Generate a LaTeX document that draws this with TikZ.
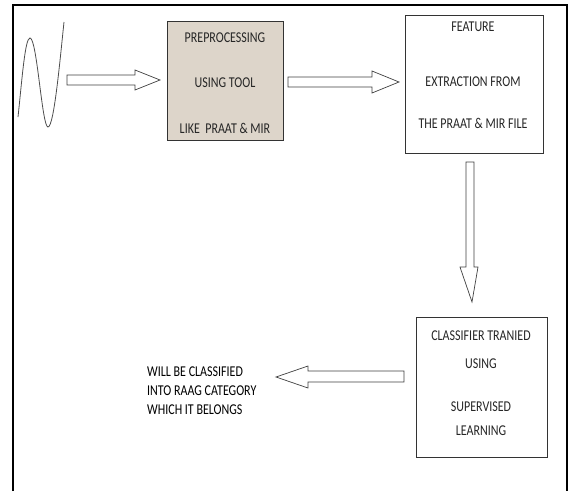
\documentclass[tikz,border=0pt]{standalone}
\usepackage{fontspec}
\setmainfont[FakeStretch=0.8]{Carlito}
\begin{document}
\begin{tikzpicture}[x=1pt,y=-1pt,
  txt/.style={font=\fontsize{15}{17}\selectfont, text=black!85, inner sep=0pt, anchor=center},
  box/.style={draw=black!80, line width=0.8pt},
  barrow/.style={draw=black!75, line width=0.7pt, fill=white, line join=miter}]
\useasboundingbox (0,0) rectangle (576,491);
% outer frame (no bottom line)
\draw[line width=1.6pt] (13,491) -- (13,5) -- (567,5) -- (567,491);
% wave
\draw[black!70, line width=0.8pt] (18,117) .. controls (22,80) and (25,38) .. (30,38)
  .. controls (37,38) and (42,127) .. (48,127)
  .. controls (54,127) and (60,60) .. (64,22);
% boxes
\node[box, fill={rgb,255:red,221;green,213;blue,202}, minimum width=116pt, minimum height=119pt, inner sep=0pt] (pre) at (225,80.5) {};
\node[box, minimum width=138pt, minimum height=138pt, inner sep=0pt] (feat) at (474,84) {};
\node[box, minimum width=131pt, minimum height=140pt, inner sep=0pt] (cls) at (481.5,387) {};
% texts
\node[txt] (p1) at (225,38) {PREPROCESSING};
\node[txt] (p2) at (225,83) {USING TOOL};
\node[txt] (p3) at (225,128) {LIKE\ \ PRAAT \& MIR};
\node[txt] (f1) at (473,27) {FEATURE};
\node[txt] (f2) at (473,82) {EXTRACTION FROM};
\node[txt] (f3) at (473,123) {THE PRAAT \& MIR FILE};
\node[txt] (c1) at (481,336) {CLASSIFIER TRANIED};
\node[txt] (c2) at (481,364) {USING};
\node[txt] (c3) at (481,407) {SUPERVISED};
\node[txt] (c4) at (481,431) {LEARNING};
\node[txt, anchor=west, text=black] (o1) at (147,372) {WILL BE CLASSIFIED};
\node[txt, anchor=west, text=black] (o2) at (147,391) {INTO RAAG CATEGORY};
\node[txt, anchor=west, text=black] (o3) at (147,410) {WHICH IT BELONGS};
% block arrows
\draw[barrow] (67,75) -- (135,75) -- (135,70) -- (160,80) -- (135,90) -- (135,85) -- (67,85) -- cycle;
\draw[barrow] (288,77) -- (372,77) -- (372,71) -- (399,82) -- (372,93) -- (372,87) -- (288,87) -- cycle;
\draw[barrow] (466,162) -- (466,267) -- (460,267) -- (472,302) -- (478,267) -- (474,267) -- (474,162) -- cycle;
\draw[barrow] (404,371) -- (308,371) -- (308,366) -- (276,377) -- (308,388) -- (308,382) -- (404,382) -- cycle;
\end{tikzpicture}
\end{document}
